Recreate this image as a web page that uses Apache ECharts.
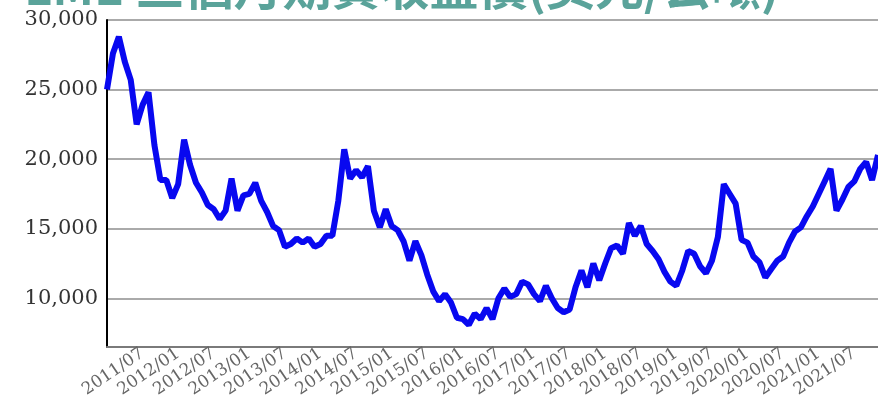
<!DOCTYPE html>
<html>
<head>
<meta charset="utf-8">
<script src="https://cdn.jsdelivr.net/npm/echarts@6/dist/echarts.min.js"></script>
<style>html,body{margin:0;padding:0;background:#fff}#c{width:878px;height:401px}</style>
</head>
<body>
<div id="c"></div>
<script>
// Monthly points, 2011/01 .. 2021/11
const titleText = 'LME 三個月期貨收盤價(美元/公噸)';
const startYear = 2011, startMonth = 1;
const prices = [
  25000, 27600, 28800, 27000, 25700, 22500, 23900, 24800, 21000, 18500,
  18500, 17200, 18200, 21400, 19600, 18300, 17600, 16700, 16400, 15700,
  16300, 18600, 16300, 17400, 17500, 18300, 17000, 16200, 15200, 14900,
  13700, 13900, 14300, 14000, 14300, 13700, 13900, 14500, 14500, 17000,
  20700, 18600, 19200, 18700, 19500, 16300, 15100, 16400, 15200, 14900,
  14100, 12700, 14100, 13100, 11700, 10500, 9800, 10300, 9700, 8600,
  8500, 8100, 8900, 8500, 9300, 8500, 10000, 10700, 10100, 10300,
  11200, 11000, 10300, 9800, 10900, 10000, 9300, 9000, 9200, 10800,
  12000, 10800, 12500, 11300, 12500, 13600, 13800, 13200, 15400, 14500,
  15200, 13900, 13400, 12800, 11900, 11200, 10900, 12000, 13400, 13200,
  12300, 11800, 12700, 14400, 18200, 17500, 16800, 14200, 14000, 13000,
  12600, 11500, 12100, 12700, 13000, 14000, 14800, 15100, 15900, 16600,
  17500, 18400, 19300, 16300, 17100, 18000, 18400, 19300, 19800, 18500,
  20300
];
const yTicks = [10000, 15000, 20000, 25000, 30000];
const yMin = 6500, yMax = 30000;

const months = prices.map((_, i) => {
  const t = (startMonth - 1) + i;
  const y = startYear + Math.floor(t / 12);
  const m = (t % 12) + 1;
  return y + '/' + (m < 10 ? '0' + m : '' + m);
});

const chart = echarts.init(document.getElementById('c'));
chart.setOption({
  animation: false,
  backgroundColor: '#ffffff',
  title: {
    text: titleText,
    left: 24,
    top: -38,
    padding: 0,
    textStyle: {
      fontFamily: '"Noto Sans CJK TC", sans-serif',
      fontSize: 49,
      fontWeight: 'bold',
      color: '#5aa39a'
    }
  },
  grid: { left: 107, right: 0, top: 20, bottom: 54 },
  xAxis: {
    type: 'category',
    data: months,
    boundaryGap: false,
    axisLine: { show: true, lineStyle: { color: '#7a7a7a', width: 2 } },
    axisTick: { show: false },
    splitLine: { show: false },
    axisLabel: {
      interval: (idx, val) => idx > 0 && (val.endsWith('/01') || val.endsWith('/07')),
      rotate: 34,
      margin: 5,
      fontFamily: '"DejaVu Serif", serif',
      fontSize: 17,
      color: '#666666'
    }
  },
  yAxis: {
    type: 'value',
    min: yMin,
    max: yMax,
    axisLine: { show: true, lineStyle: { color: '#000000', width: 2 } },
    axisTick: { show: false, customValues: yTicks },
    splitLine: { show: true, lineStyle: { color: '#aaaaaa', width: 2 } },
    axisLabel: {
      customValues: yTicks,
      margin: 9,
      fontFamily: '"DejaVu Serif", serif',
      fontSize: 21,
      color: '#333333',
      formatter: v => v.toLocaleString('en-US')
    }
  },
  series: [{
    type: 'line',
    data: prices,
    symbol: 'none',
    lineStyle: { color: '#0808f0', width: 6 },
    itemStyle: { color: '#0808f0' }
  }]
});
</script>
</body>
</html>
